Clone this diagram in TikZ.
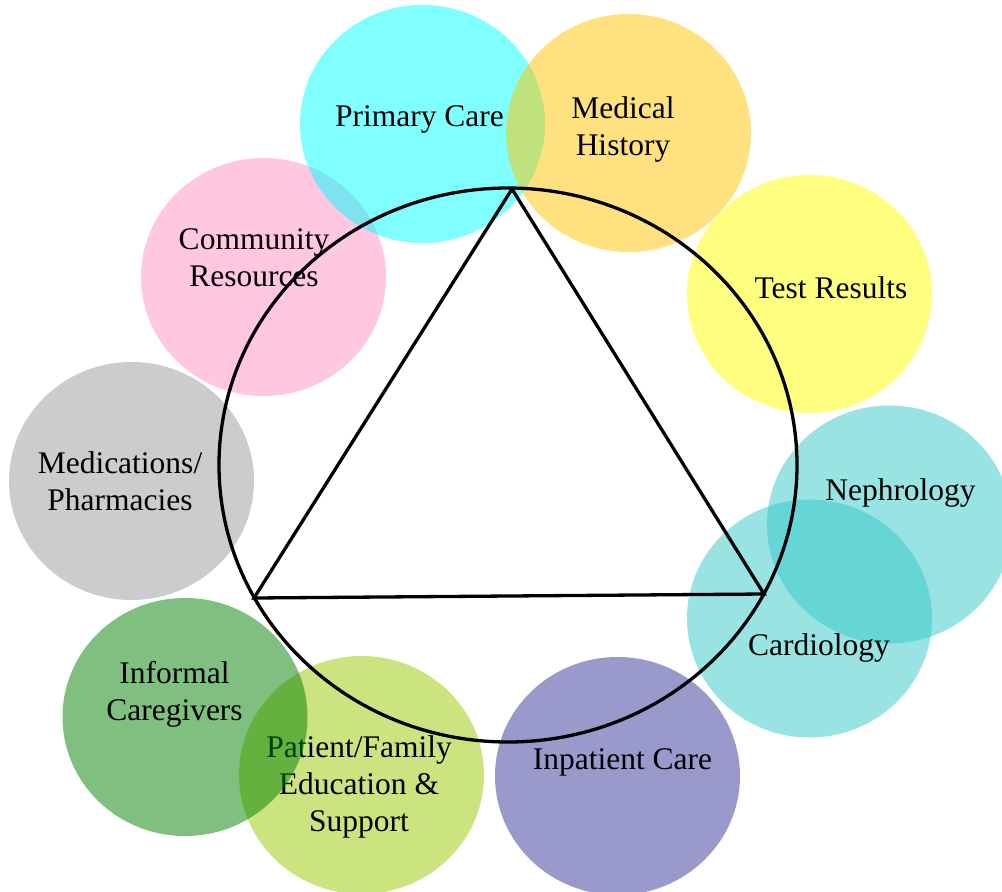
\documentclass[tikz,border=0pt]{standalone}
\usepackage{fontspec}
\setmainfont{Liberation Serif}
\usetikzlibrary{shapes.geometric}
\definecolor{pccol}{RGB}{0,255,255}
\definecolor{mhcol}{RGB}{255,197,0}
\definecolor{trcol}{RGB}{255,255,0}
\definecolor{tealcol}{RGB}{51,199,199}
\definecolor{iccol}{RGB}{51,51,153}
\definecolor{pfcol}{RGB}{153,201,0}
\definecolor{igcol}{RGB}{0,128,0}
\definecolor{medcol}{RGB}{153,153,153}
\definecolor{crcol}{RGB}{255,145,193}
\tikzset{
  blob/.style={ellipse, minimum width=245pt, minimum height=238pt, inner sep=0pt, draw=none, fill opacity=0.5},
  lbl/.style={anchor=base, inner sep=0pt, text=black, font=\fontsize{31.5}{37}\selectfont},
  ring/.style={draw=black, line width=3.3pt, ellipse, minimum width=578pt, minimum height=554pt, inner sep=0pt},
  tri/.style={draw=black, line width=3.3pt}
}
\newcommand{\twol}[2]{\begin{tabular}[t]{@{}c@{}}#1\\#2\end{tabular}}
\newcommand{\threel}[3]{\begin{tabular}[t]{@{}c@{}}#1\\#2\\#3\end{tabular}}
\begin{document}
\begin{tikzpicture}[x=1pt,y=-1pt]
\useasboundingbox (0,0) rectangle (1002,892);
% circles with labels, in drawing order
\node[blob, fill=crcol] (ccr) at (263.5,277) {};
\node[lbl] (cr) at (254,249) {\twol{Community}{Resources}};
\node[blob, fill=pccol] (cpc) at (422.5,124) {};
\node[lbl] (pc) at (419.5,126) {Primary Care};
\node[blob, fill=mhcol] (cmh) at (628.5,133) {};
\node[lbl] (mh) at (623,118) {\twol{Medical}{History}};
\node[blob, fill=trcol] (ctr) at (809.5,294) {};
\node[lbl] (tr) at (831,298) {Test Results};
\node[blob, fill=tealcol] (cne) at (889.5,524.5) {};
\node[lbl] (ne) at (900.5,500) {Nephrology};
\node[blob, fill=tealcol] (cca) at (809.5,618.5) {};
\node[lbl] (ca) at (819,655) {Cardiology};
\node[blob, fill=iccol] (cic) at (617.5,776) {};
\node[lbl] (ic) at (622.5,769) {Inpatient Care};
\node[blob, fill=pfcol] (cpf) at (361.5,775) {};
\node[lbl] (pf) at (359,757) {\threel{Patient/Family}{Education \&}{Support}};
\node[blob, fill=igcol] (cig) at (185,717) {};
\node[lbl] (ig) at (174.5,683) {\twol{Informal}{Caregivers}};
\node[blob, fill=medcol] (cmed) at (131.5,481) {};
\node[lbl] (med) at (120,473) {\twol{Medications/}{Pharmacies}};
% big ring and triangle
\node[ring] (big) at (508,465) {};
\coordinate (ta) at (512,189);
\coordinate (tl) at (254,598);
\coordinate (tb) at (764,594);
\draw[tri] (ta) -- (tl) -- (tb) -- cycle;
\end{tikzpicture}
\end{document}
